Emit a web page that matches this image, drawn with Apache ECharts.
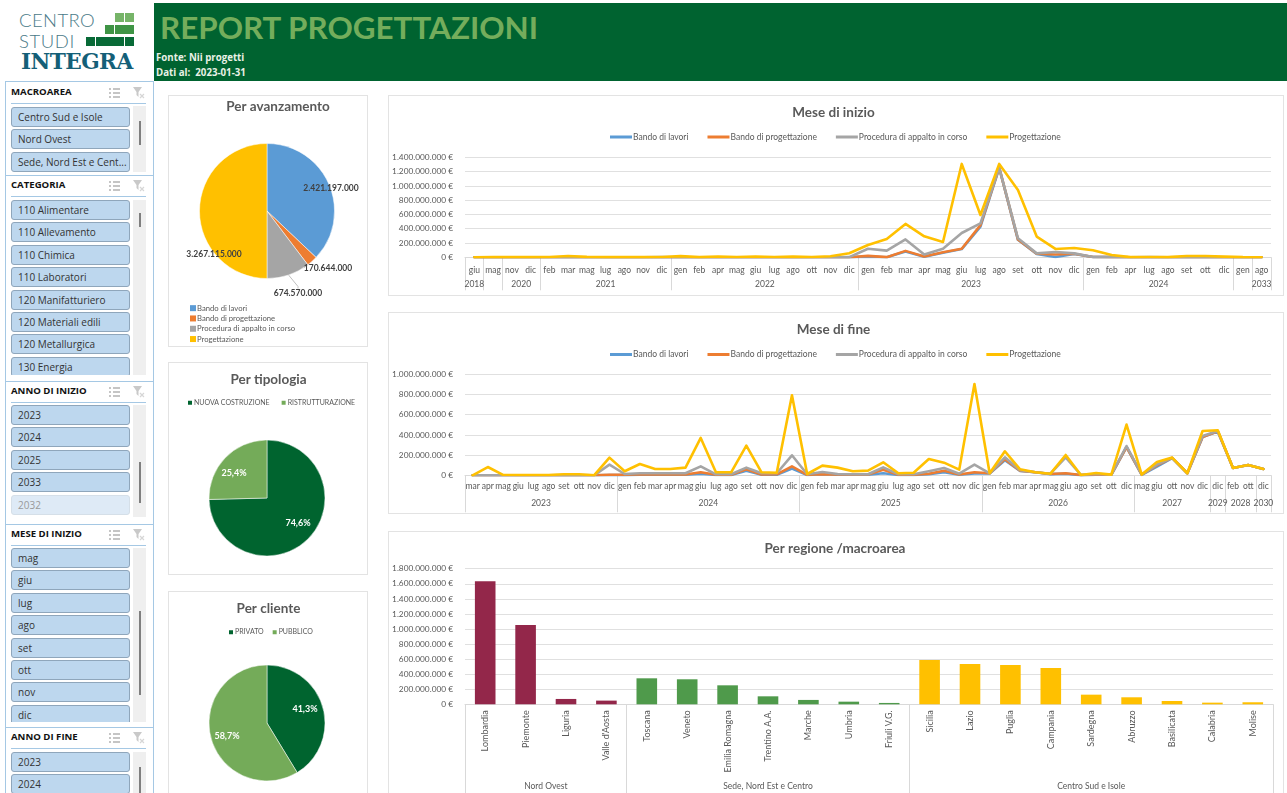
<!DOCTYPE html>
<html lang="it">
<head>
<meta charset="utf-8">
<title>Report Progettazioni</title>
<script src="https://cdn.jsdelivr.net/npm/echarts@6/dist/echarts.min.js"></script>
<style>
html,body{margin:0;padding:0;width:1287px;height:793px;overflow:hidden;background:#fff;font-family:Lato,sans-serif}
#chart{position:absolute;left:0;top:0;width:1287px;height:793px;z-index:2}
.card{position:absolute;background:#fff;border:1px solid #e3e3e3;box-sizing:border-box;z-index:1}
#head{position:absolute;left:154px;top:3px;width:1133px;height:78px;background:#006330;z-index:1}
#head h1{position:absolute;left:6px;top:6px;margin:0;font:bold 31.4px/36px Lato,sans-serif;color:#74ad5c;white-space:nowrap}
#head p{position:absolute;left:2px;margin:0;font:bold 9.7px/14px "Open Sans",Lato,sans-serif;color:#e9f1e6;white-space:pre}
.panel{position:absolute;left:5px;width:149px;box-sizing:border-box;border-left:1px solid #a5c8e4;border-right:1px solid #a5c8e4;border-top:1px solid #a5c8e4;background:#fff;overflow:hidden;z-index:1}
.panel .hd{position:absolute;left:5px;font:bold 9.6px/14px "Open Sans",Lato,sans-serif;color:#111;white-space:nowrap}
.panel .ul{position:absolute;left:5px;width:135px;height:1px;background:#a5c8e4}
.panel .track{position:absolute;left:127px;width:13px;background:#efefef}
.panel .thumb{position:absolute;left:133px;width:2px;background:#7f7f7f}
.panel .it{position:absolute;left:5px;width:117px;height:18px;background:#bdd7ee;border:1px solid #8fa6bb;border-radius:3px;font:10px/18px "Open Sans",Lato,sans-serif;color:#333;text-indent:6px;white-space:nowrap}
.panel .it.off{background:#deeaf6;border-color:#d5dfe8;color:#999}
.panel .clip{position:absolute;left:0;width:147px;overflow:hidden}
.panel svg{position:absolute}
#logo{position:absolute;left:0;top:0;width:154px;height:81px;z-index:1}
#logo span{position:absolute;white-space:nowrap}
#logo i{position:absolute;display:block}
</style>
</head>
<body>
<div id="logo"></div>
<div id="head">
  <h1>REPORT PROGETTAZIONI</h1>
  <p style="top:48px">Fonte: Nii progetti</p>
  <p style="top:63px">Dati al:  2023-01-31</p>
</div>
<div id="panels"></div>
<div id="cards"></div>
<div id="chart"></div>
<script>
/* ---------- slicer lists ---------- */
const macroareaItems = ['Centro Sud e Isole','Nord Ovest','Sede, Nord Est e Cent...'];
const categoriaItems = ['110 Alimentare','110 Allevamento','110 Chimica','110 Laboratori','120 Manifatturiero','120 Materiali edili','120 Metallurgica','130 Energia'];
const annoInizioItems = ['2023','2024','2025','2033','2032'];
const meseInizioItems = ['mag','giu','lug','ago','set','ott','nov','dic'];
const annoFineItems = ['2023','2024'];

/* ---------- pies ---------- */
const statusNames = ['Bando di lavori','Bando di progettazione','Procedura di appalto in corso','Progettazione'];
const statusTotals = [2421197000,170644000,674570000,3267115000];
const tipologiaNames = ['NUOVA COSTRUZIONE','RISTRUTTURAZIONE'];
const tipologiaPct = [74.6,25.4];
const clienteNames = ['PRIVATO','PUBBLICO'];
const clientePct = [41.3,58.7];

/* ---------- Mese di inizio (milioni di euro) ---------- */
const startMonths = ['giu','mag','nov','dic','feb','mar','mag','lug','ago','nov','dic','gen','feb','apr','mag','giu','lug','ago','ott','nov','dic','gen','feb','mar','apr','mag','giu','lug','ago','set','ott','nov','dic','gen','feb','apr','lug','ago','set','ott','dic','gen','ago'];
const startYears = ['2018','2019','2020','2021','2022','2023','2024','2025','2033'];
const startYearSpans = [1,1,2,7,10,12,8,1,1];
const startLavori = [0,0,0,0,0,1,0,0,0,0,0,0,0,0,0,0,0,0,0,0,0,10,0,80,8,65,115,430,1250,245,45,5,45,3,2,0,1,0,1,1,0,0,0];
const startProgettazione = [0,0,0,0,0,1,0,0,0,0,0,0,0,0,0,0,0,0,0,0,0,20,2,90,12,70,120,450,1255,250,50,40,50,4,3,0,1,1,1,1,0,0,0];
const startAppalto = [0,0,0,0,0,1,0,0,0,0,3,1,0,0,0,0,0,0,0,1,3,120,93,250,40,120,340,476,1255,266,55,75,55,5,5,1,2,1,2,2,1,0,0];
const startProgetto = [1,2,2,2,5,18,6,2,3,2,4,16,3,12,5,12,4,10,4,14,56,172,256,467,294,215,1307,593,1307,943,290,117,130,98,33,2,5,3,18,18,10,2,0];

/* ---------- Mese di fine (milioni di euro) ---------- */
const endMonths = ['mar','apr','mag','giu','lug','ago','set','ott','nov','dic','gen','feb','mar','apr','mag','giu','lug','ago','set','ott','nov','dic','gen','feb','mar','apr','mag','giu','lug','ago','set','ott','nov','dic','gen','feb','mar','apr','mag','giu','ago','set','ott','dic','mag','giu','ott','nov','dic','dic','feb','ott','dic'];
const endYears = ['2023','2024','2025','2026','2027','2029','2028','2030'];
const endYearSpans = [10,12,12,10,5,1,2,1];
const endLavori = [0,0,0,0,0,0,0,0,0,2,2,5,5,5,5,15,3,3,45,5,5,66,3,12,5,5,5,20,3,3,10,30,5,18,18,150,44,30,12,15,2,5,5,278,5,85,170,20,378,434,73,102,63];
const endProgettazione = [0,0,0,0,0,0,1,1,0,5,5,10,8,8,8,30,5,5,60,8,10,89,5,10,8,8,8,56,5,5,16,46,8,30,20,160,46,30,13,20,3,7,7,280,7,99,172,20,380,436,73,102,63];
const endAppalto = [0,0,1,1,1,1,2,2,0,106,13,20,20,20,20,89,10,10,76,20,20,198,10,33,13,10,10,79,10,10,40,73,16,106,20,178,50,30,16,178,3,13,7,290,7,106,172,20,389,439,73,102,63];
const endProgetto = [0,82,5,3,3,3,10,10,1,175,40,112,63,63,76,370,30,30,294,30,25,792,13,96,76,40,46,129,20,26,162,125,56,904,20,238,59,30,16,201,3,23,7,502,7,132,175,20,439,446,73,102,63];

/* ---------- Per regione (milioni di euro) ---------- */
const regioni = ['Lombardia','Piemonte','Liguria',"Valle d'Aosta",'Toscana','Veneto','Emilia Romagna','Trentino A.A.','Marche','Umbria','Friuli V.G.','Sicilia','Lazio','Puglia','Campania','Sardegna','Abruzzo','Basilicata','Calabria','Molise'];
const regioneValori = [1633,1053,71,49,345,332,252,106,58,35,18,588,535,522,482,128,93,44,22,27];
const macroaree = ['Nord Ovest','Sede, Nord Est e Centro','Centro Sud e Isole'];
const macroareaSpans = [4,7,9];

/* ---------- styling ---------- */
const C_BLUE='#5B9BD5',C_ORANGE='#ED7D31',C_GRAY='#A5A5A5',C_YELLOW='#FFC000';
const C_DARK='#00642F',C_LIGHT='#74AB59';
const C_TEXT='#595959',C_GRID='#E0E0E0',C_BAR=['#93274A','#4F9A4B','#FFC000'];
const FONT='Lato, sans-serif';

/* ---------- logo ---------- */
(function(){
  const l=document.getElementById('logo');
  l.innerHTML='<span style="left:19px;top:8.500px;font:300 18.500px/22px Lato;letter-spacing:.4px;color:#4a7a88">CENTRO</span>'+
  '<span style="left:19px;top:29.500px;font:300 18.500px/22px Lato;letter-spacing:.6px;color:#4a7a88">STUDI</span>'+
  '<span style="left:21px;top:48px;font:900 23px/26px \'DejaVu Serif\',serif;letter-spacing:-.6px;color:#145f78;transform:scaleX(.94);transform-origin:0 50%">INTEGRA</span>';
  [[115,13,2,'#76b468'],[105,25,3,'#3f9445'],[86,37,5,'#086a37']].forEach(r=>{
    for(let i=0;i<r[2];i++){
      const d=document.createElement('i');
      d.style.cssText=`left:${r[0]+i*9.7}px;top:${r[1]}px;width:9.3px;height:9px;background:${r[3]}`;
      l.appendChild(d);
    }
  });
})();

/* ---------- slicers ---------- */
const slicers=[
 {title:'MACROAREA',top:81,h:94,line:21,items:macroareaItems,track:[24,90],thumb:[39,63],first:25},
 {title:'CATEGORIA',top:175,h:206,line:20,items:categoriaItems,track:[24,199],thumb:[37,51],first:24},
 {title:'ANNO DI INIZIO',top:381,h:143,line:20,items:annoInizioItems,track:[23,135],thumb:[80,121],off:4,first:23},
 {title:'MESE DI INIZIO',top:524,h:203,line:20,items:meseInizioItems,track:[23,197],thumb:[86,170],first:23},
 {title:'ANNO DI FINE',top:727,h:70,line:20,items:annoFineItems,track:[24,70],thumb:[39,70],first:24}
];
const panels=document.getElementById('panels');
slicers.forEach(s=>{
  const p=document.createElement('div');p.className='panel';
  p.style.top=s.top+'px';p.style.height=s.h+'px';
  let html=`<div class="hd" style="top:${s.line-18}px">${s.title}</div><div class="ul" style="top:${s.line}px"></div>`;
  html+=`<svg style="left:102px;top:${s.line-16}px" width="13" height="12" viewBox="0 0 13 12"><path d="M1 2h2M1 6h2M1 10h2M5 2h7M5 6h7M5 10h7" stroke="#8c8c8c" stroke-width="1.2" fill="none"/></svg>`;
  html+=`<svg style="left:126px;top:${s.line-17}px" width="14" height="14" viewBox="0 0 14 14"><path d="M1 1h9L6.5 6v5L4.500 9V6z" fill="#c9c9c9"/><path d="M8 8l4 4M12 8l-4 4" stroke="#d6d6d6" stroke-width="1.2"/></svg>`;
  html+=`<div class="track" style="top:${s.track[0]}px;height:${s.track[1]-s.track[0]}px"></div><div class="thumb" style="top:${s.thumb[0]}px;height:${s.thumb[1]-s.thumb[0]}px"></div>`;
  html+=`<div class="clip" style="top:${s.first}px;height:${s.track[1]-s.first}px">`;
  s.items.forEach((t,i)=>{html+=`<div class="it${s.off===i?' off':''}" style="top:${i*22.4}px">${t}</div>`;});
  html+='</div>';
  p.innerHTML=html;panels.appendChild(p);
});

/* ---------- cards ---------- */
const cards=[[168,95,200,252],[168,362,200,213],[168,591,200,210],[388,95,896,201],[388,312,896,202],[388,531,896,270]];
cards.forEach(c=>{
  const d=document.createElement('div');d.className='card';
  d.style.cssText=`left:${c[0]}px;top:${c[1]}px;width:${c[2]}px;height:${c[3]}px`;
  document.getElementById('cards').appendChild(d);
});

/* ---------- helpers ---------- */
const euro=v=>String(Math.round(v*1e6)).replace(/\B(?=(\d{3})+$)/g,'.')+' €';
const dotted=v=>String(v).replace(/\B(?=(\d{3})+$)/g,'.');
const pct=v=>v.toFixed(1).replace('.',',')+'%';

function groupAxis(names,spans,gridIndex,tickLen,labelMargin){
  const edges=[0],labels=new Map();
  spans.forEach((s,i)=>{const a=edges[edges.length-1];edges.push(a+s);labels.set(a+s/2,names[i]);});
  const total=edges[edges.length-1];
  return {type:'value',gridIndex,position:'bottom',min:0,max:total,silent:true,
    axisLine:{show:false},splitLine:{show:false},
    axisTick:{show:true,length:tickLen,customValues:edges,lineStyle:{color:'#D9D9D9',width:1}},
    axisLabel:{show:true,customValues:[...labels.keys()],margin:labelMargin,hideOverlap:false,showMinLabel:true,showMaxLabel:true,
      fontFamily:FONT,fontSize:8.5,color:C_TEXT,formatter:v=>labels.get(v)}};
}
function monthAxis(data,gridIndex,margin){
  return {type:'category',gridIndex,data,boundaryGap:true,
    axisLine:{show:true,lineStyle:{color:'#D9D9D9'}},axisTick:{show:false},
    axisLabel:{interval:0,margin,fontFamily:FONT,fontSize:8.500,color:C_TEXT,hideOverlap:false}};
}
function valueAxis(gridIndex,max,interval){
  return {type:'value',gridIndex,min:0,max,interval,
    axisLine:{show:false},axisTick:{show:false},
    splitLine:{show:true,lineStyle:{color:C_GRID,width:1}},
    axisLabel:{margin:12,fontFamily:FONT,fontSize:8.300,color:C_TEXT,formatter:euro}};
}
function lineSeries(name,data,color,idx){
  return {type:'line',name,data,xAxisIndex:idx,yAxisIndex:idx,symbol:'none',smooth:false,
    lineStyle:{color,width:2.6,cap:'round',join:'round'},itemStyle:{color},z:3};
}
function lineLegend(top){
  return {top,left:605,itemWidth:22,itemHeight:3,itemGap:19,icon:'rect',
    textStyle:{fontFamily:FONT,fontSize:8.500,color:C_TEXT,padding:[0,0,0,-4]},
    data:statusNames};
}
const titleStyle={fontFamily:FONT,fontWeight:'bold',fontSize:13.5,color:C_TEXT};
const mkTitle=(text,cx,top)=>({text,left:cx,top,textAlign:'center',textStyle:titleStyle});

/* ---------- pie label placement (pixel layout, not data) ---------- */
const pieLabelPos={
  avanz:[[331,188],[328,268],[298,293],[214,254]],
  tipo:[[298,523],[234,473]],
  cli:[[305,709],[227,736]]
};
function pieSeries(names,values,center,r,colors,fmt,pos,lbl,lineOn){
  return {type:'pie',center,radius:r,startAngle:90,clockwise:true,silent:true,
    data:values.map((v,i)=>({name:names[i],value:v,itemStyle:{color:colors[i]},
      labelLine:{show:!!(lineOn&&lineOn[i])}})),
    label:Object.assign({show:true,position:'outside',formatter:p=>fmt(p.value),fontFamily:FONT},lbl),
    labelLine:{length:8,length2:2,lineStyle:{color:'#BFBFBF',width:1}},
    labelLayout:p=>({x:pos[p.dataIndex][0],y:pos[p.dataIndex][1],align:'center',verticalAlign:'middle',hideOverlap:false}),
    itemStyle:{borderColor:'#fff',borderWidth:0.5}};
}
const pieLegend=(names,left,top,orient,fs,gap)=>({left,top,orient,itemWidth:6,itemHeight:6,icon:'rect',
  itemGap:gap,
  textStyle:{fontFamily:FONT,fontSize:fs,color:C_TEXT,padding:[0,0,0,-4],lineHeight:10.3,height:10.3},data:names});

/* ---------- bar data with a colour per macroarea ---------- */
const barData=[];let grp=0,cnt=0;
regioneValori.forEach(v=>{
  barData.push({value:v,itemStyle:{color:C_BAR[grp]}});
  if(++cnt===macroareaSpans[grp]){grp++;cnt=0;}
});

const option={
  animation:false,
  backgroundColor:'transparent',
  title:[
    mkTitle('Per avanzamento',273,95),
    mkTitle('Per tipologia',263.5,368),
    mkTitle('Per cliente',263.5,597),
    mkTitle('Mese di inizio',828.5,101),
    mkTitle('Mese di fine',828.5,318),
    mkTitle('Per regione /macroarea',830,537)
  ],
  legend:[
    lineLegend(127.5),
    lineLegend(345),
    pieLegend(statusNames,185,298,'vertical',7.7,0),
    pieLegend(tipologiaNames,181,392.5,'horizontal',7,10),
    pieLegend(clienteNames,222,622,'horizontal',7,7)
  ],
  grid:[
    {left:465,width:806,top:157.3,height:100},
    {left:465,width:806,top:374.3,height:101},
    {left:465,width:808,top:568.7,height:135.6}
  ],
  xAxis:[
    monthAxis(startMonths,0,8),
    monthAxis(endMonths,1,6),
    Object.assign(monthAxis(regioni,2,6),{axisLabel:{interval:0,rotate:90,margin:6,fontFamily:FONT,fontSize:9,color:C_TEXT,hideOverlap:false}}),
    groupAxis(startYears,startYearSpans,0,33,22),
    groupAxis(endYears,endYearSpans,1,37,23),
    groupAxis(macroaree,macroareaSpans,2,92,77)
  ],
  yAxis:[valueAxis(0,1400,200),valueAxis(1,1000,200),valueAxis(2,1800,200)],
  series:[
    pieSeries(statusNames,statusTotals,[267,211],67.5,[C_BLUE,C_ORANGE,C_GRAY,C_YELLOW],dotted,pieLabelPos.avanz,{fontSize:8.5,fontWeight:'bold',color:'#404040'},[0,1,1,0]),
    pieSeries(tipologiaNames,tipologiaPct,[267,498],58,[C_DARK,C_LIGHT],pct,pieLabelPos.tipo,{fontSize:9,fontWeight:'bold',color:'#fff'}),
    pieSeries(clienteNames,clientePct,[267,723],58,[C_DARK,C_LIGHT],pct,pieLabelPos.cli,{fontSize:9,fontWeight:'bold',color:'#fff'}),
    lineSeries(statusNames[0],startLavori,C_BLUE,0),
    lineSeries(statusNames[1],startProgettazione,C_ORANGE,0),
    lineSeries(statusNames[2],startAppalto,C_GRAY,0),
    lineSeries(statusNames[3],startProgetto,C_YELLOW,0),
    lineSeries(statusNames[0],endLavori,C_BLUE,1),
    lineSeries(statusNames[1],endProgettazione,C_ORANGE,1),
    lineSeries(statusNames[2],endAppalto,C_GRAY,1),
    lineSeries(statusNames[3],endProgetto,C_YELLOW,1),
    {type:'bar',name:'Per regione',data:barData,xAxisIndex:2,yAxisIndex:2,barWidth:'51%',z:3}
  ]
};
const chart=echarts.init(document.getElementById('chart'),null,{renderer:'canvas'});
chart.setOption(option);
</script>
</body>
</html>
